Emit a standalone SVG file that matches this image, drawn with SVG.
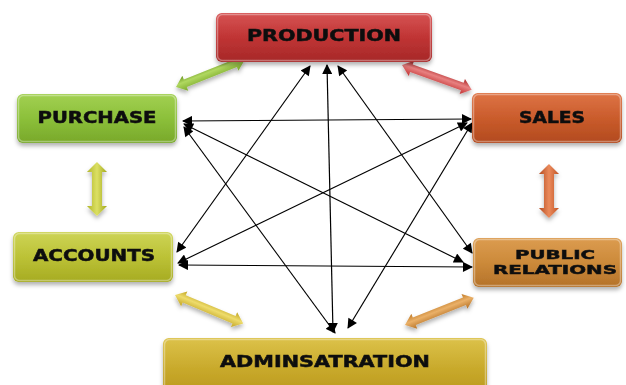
<svg xmlns="http://www.w3.org/2000/svg" width="626" height="385" viewBox="0 0 626 385">
  <defs>
    <style>
      .lbl { font-family: "DejaVu Sans", "Liberation Sans", sans-serif; font-weight: bold; font-size: 15px; fill: #111; stroke: #111; stroke-width: 0.5; text-anchor: middle; }
      .lbl-sm { font-size: 13px; }
      .rim { fill: none; stroke: #ffffff; stroke-opacity: 0.35; stroke-width: 1.5; }
      .link { fill: none; stroke: #000; stroke-width: 1.2; marker-start: url(#head); marker-end: url(#head); }
    </style>
    <filter id="shadow" x="-10%" y="-20%" width="120%" height="150%">
      <feDropShadow dx="0" dy="3" stdDeviation="2" flood-color="#000" flood-opacity="0.3"/>
    </filter>
    <marker id="head" viewBox="0 0 10 10" refX="9" refY="5" markerWidth="11" markerHeight="10" markerUnits="userSpaceOnUse" orient="auto-start-reverse">
      <path d="M0,0 L10,5 L0,10 z" fill="#000"/>
    </marker>

    <!-- box fills -->
    <linearGradient id="gRed" x1="0" y1="0" x2="0" y2="1">
      <stop offset="0" stop-color="#d65454"/><stop offset="0.5" stop-color="#c03434"/><stop offset="1" stop-color="#a62828"/>
    </linearGradient>
    <linearGradient id="gGreen" x1="0" y1="0" x2="0" y2="1">
      <stop offset="0" stop-color="#a2d052"/><stop offset="0.5" stop-color="#8cc03a"/><stop offset="1" stop-color="#78a82a"/>
    </linearGradient>
    <linearGradient id="gOrange" x1="0" y1="0" x2="0" y2="1">
      <stop offset="0" stop-color="#de7446"/><stop offset="0.5" stop-color="#ca5c2c"/><stop offset="1" stop-color="#b24a1e"/>
    </linearGradient>
    <linearGradient id="gOlive" x1="0" y1="0" x2="0" y2="1">
      <stop offset="0" stop-color="#cdd456"/><stop offset="0.5" stop-color="#bcc236"/><stop offset="1" stop-color="#a6ab22"/>
    </linearGradient>
    <linearGradient id="gTan" x1="0" y1="0" x2="0" y2="1">
      <stop offset="0" stop-color="#dc9c50"/><stop offset="0.5" stop-color="#cc8a3a"/><stop offset="1" stop-color="#b4722a"/>
    </linearGradient>
    <linearGradient id="gGold" x1="0" y1="0" x2="0" y2="1">
      <stop offset="0" stop-color="#dcc24a"/><stop offset="0.5" stop-color="#c9aa2c"/><stop offset="1" stop-color="#b8961c"/>
    </linearGradient>

    <!-- block-arrow shading, across the shaft -->
    <linearGradient id="aGreen" x1="0" y1="0" x2="0" y2="1">
      <stop offset="0" stop-color="#6a9620"/><stop offset="0.4" stop-color="#b0d860"/><stop offset="1" stop-color="#7aa82a"/>
    </linearGradient>
    <linearGradient id="aRed" x1="0" y1="0" x2="0" y2="1">
      <stop offset="0" stop-color="#a82424"/><stop offset="0.45" stop-color="#e88080"/><stop offset="1" stop-color="#c03030"/>
    </linearGradient>
    <linearGradient id="aOlive" x1="0" y1="0" x2="0" y2="1">
      <stop offset="0" stop-color="#a2a81c"/><stop offset="0.5" stop-color="#dce064"/><stop offset="1" stop-color="#b0b628"/>
    </linearGradient>
    <linearGradient id="aOrange" x1="0" y1="0" x2="0" y2="1">
      <stop offset="0" stop-color="#c25424"/><stop offset="0.5" stop-color="#ea8a5c"/><stop offset="1" stop-color="#b44a1e"/>
    </linearGradient>
    <linearGradient id="aGold" x1="0" y1="0" x2="0" y2="1">
      <stop offset="0" stop-color="#c0a422"/><stop offset="0.45" stop-color="#eedc6c"/><stop offset="1" stop-color="#c2a424"/>
    </linearGradient>
    <linearGradient id="aTan" x1="0" y1="0" x2="0" y2="1">
      <stop offset="0" stop-color="#c07a26"/><stop offset="0.45" stop-color="#eab068"/><stop offset="1" stop-color="#b47024"/>
    </linearGradient>

    <!-- double block arrows, drawn along x from 0 to their length -->
    <path id="blk74" d="M0,0 L10,-8 L10,-4 L64,-4 L64,-8 L74,0 L64,8 L64,4 L10,4 L10,8 z"/>
    <path id="blk54" d="M0,0 L10,-10 L10,-5 L44,-5 L44,-10 L54,0 L44,10 L44,5 L10,5 L10,10 z"/>
  </defs>

  <!-- block arrows between neighbouring units -->
  <g id="block-arrows" filter="url(#shadow)">
    <use href="#blk74" fill="url(#aGreen)" transform="translate(176,87) rotate(-21.7)"/>
    <use href="#blk74" fill="url(#aRed)" transform="translate(402,65) rotate(19.6)"/>
    <use href="#blk54" fill="url(#aOlive)" transform="translate(97,162) rotate(90)"/>
    <use href="#blk54" fill="url(#aOrange)" transform="translate(549,164) rotate(90)"/>
    <use href="#blk74" fill="url(#aGold)" transform="translate(175,295) rotate(22.7)"/>
    <use href="#blk74" fill="url(#aTan)" transform="translate(405,325) rotate(-21.7)"/>
  </g>

  <!-- thin two-way connectors -->
  <g id="connectors">
    <line class="link" x1="183" y1="121" x2="471" y2="119"/>
    <line class="link" x1="179" y1="265" x2="472" y2="267"/>
    <line class="link" x1="184" y1="124" x2="463" y2="262"/>
    <line class="link" x1="178" y1="263" x2="467" y2="123"/>
    <line class="link" x1="184" y1="127" x2="335" y2="333"/>
    <line class="link" x1="472" y1="123" x2="348" y2="328"/>
    <line class="link" x1="310" y1="66" x2="177" y2="252"/>
    <line class="link" x1="338" y1="66" x2="472" y2="253"/>
    <line class="link" x1="327" y1="65" x2="333" y2="332"/>
  </g>

  <g id="production" filter="url(#shadow)">
    <rect x="216" y="13" width="216" height="49" rx="6" fill="url(#gRed)"/>
    <rect class="rim" x="217.5" y="14.5" width="213" height="46" rx="5"/>
    <text class="lbl" x="324" y="41" textLength="154" lengthAdjust="spacingAndGlyphs">PRODUCTION</text>
  </g>

  <g id="purchase" filter="url(#shadow)">
    <rect x="17" y="94" width="160" height="49" rx="6" fill="url(#gGreen)"/>
    <rect class="rim" x="18.5" y="95.5" width="157" height="46" rx="5"/>
    <text class="lbl" x="97" y="123" textLength="119" lengthAdjust="spacingAndGlyphs">PURCHASE</text>
  </g>

  <g id="sales" filter="url(#shadow)">
    <rect x="472" y="93" width="150" height="50" rx="6" fill="url(#gOrange)"/>
    <rect class="rim" x="473.5" y="94.5" width="147" height="47" rx="5"/>
    <text class="lbl" x="552" y="123" textLength="66" lengthAdjust="spacingAndGlyphs">SALES</text>
  </g>

  <g id="accounts" filter="url(#shadow)">
    <rect x="13" y="232" width="160" height="50" rx="6" fill="url(#gOlive)"/>
    <rect class="rim" x="14.5" y="233.5" width="157" height="47" rx="5"/>
    <text class="lbl" x="94" y="261" textLength="122" lengthAdjust="spacingAndGlyphs">ACCOUNTS</text>
  </g>

  <g id="public-relations" filter="url(#shadow)">
    <rect x="473" y="238" width="149" height="49" rx="6" fill="url(#gTan)"/>
    <rect class="rim" x="474.5" y="239.5" width="146" height="46" rx="5"/>
    <text class="lbl lbl-sm" x="555" y="259" textLength="80" lengthAdjust="spacingAndGlyphs">PUBLIC</text>
    <text class="lbl lbl-sm" x="555" y="274" textLength="124" lengthAdjust="spacingAndGlyphs">RELATIONS</text>
  </g>

  <g id="administration" filter="url(#shadow)">
    <rect x="163" y="338" width="324" height="60" rx="6" fill="url(#gGold)"/>
    <rect class="rim" x="164.5" y="339.5" width="321" height="57" rx="5"/>
    <text class="lbl" x="325" y="367" textLength="210" lengthAdjust="spacingAndGlyphs">ADMINSATRATION</text>
  </g>
</svg>
